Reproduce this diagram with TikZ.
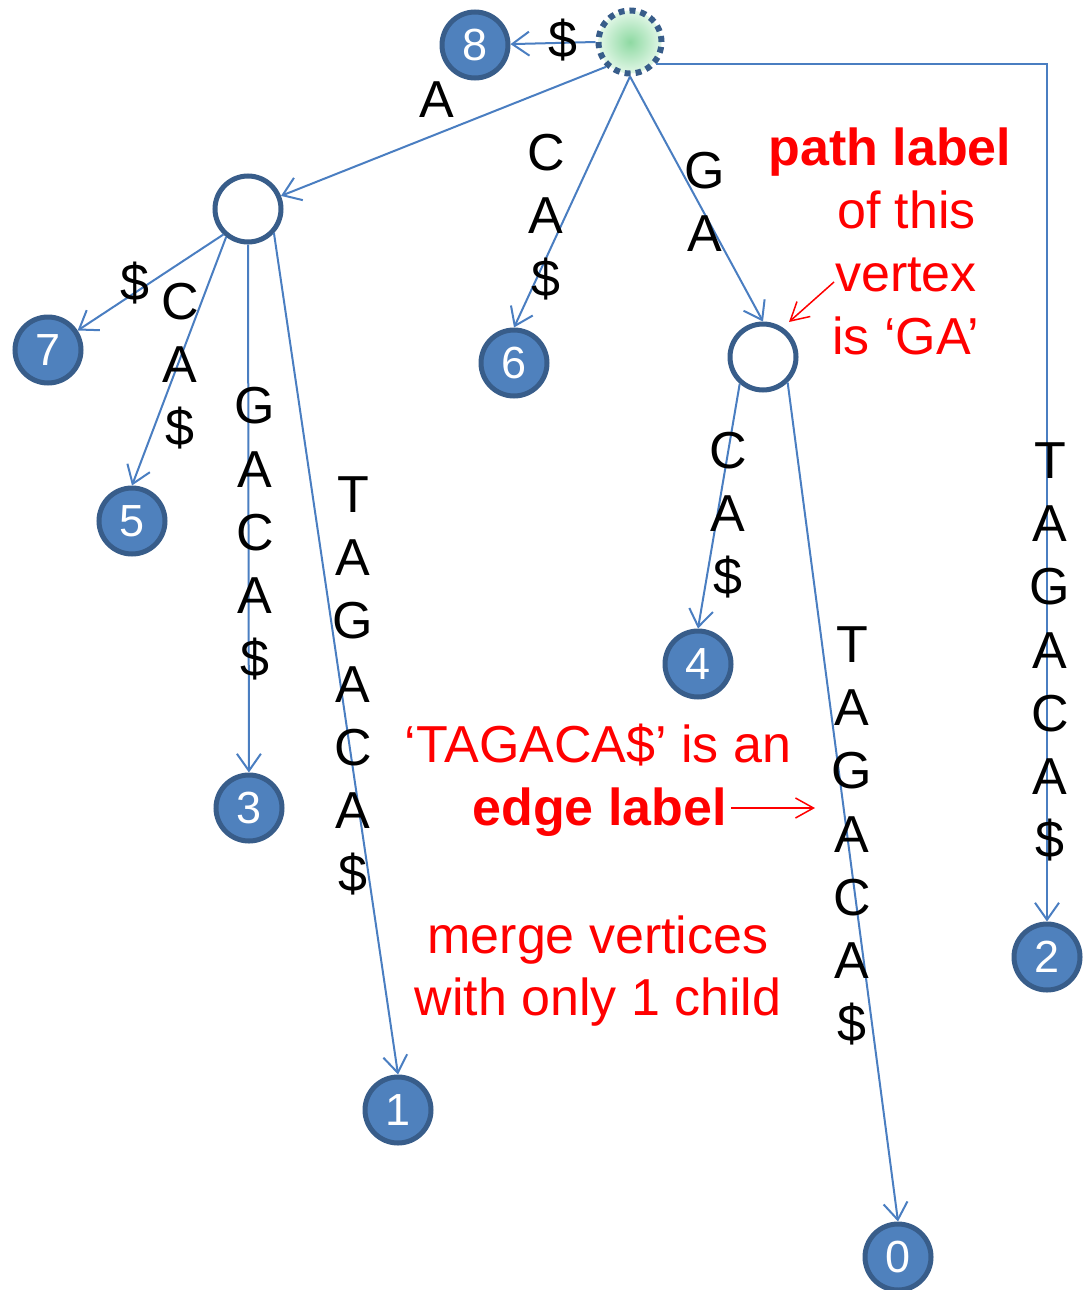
\documentclass[tikz,border=0pt]{standalone}
\usepackage{fontspec}
\setmainfont{Liberation Sans}
\usetikzlibrary{arrows.meta}
\definecolor{leaffill}{HTML}{4F81BD}
\definecolor{nodeline}{HTML}{385D8A}
\definecolor{edgeblue}{HTML}{4A7EC1}
\definecolor{rootin}{HTML}{8ED9A2}
\definecolor{rootout}{HTML}{E2F7E7}
\begin{document}
\begin{tikzpicture}[x=1pt,y=-1pt,
 leaf/.style={circle, fill=leaffill, draw=nodeline, line width=5pt, minimum size=66pt, inner sep=0pt, text=white, font=\fontsize{45}{45}\selectfont},
 innernode/.style={circle, fill=white, draw=nodeline, line width=5pt, minimum size=66pt, inner sep=0pt},
 rootnode/.style={circle, inner color=rootin, outer color=rootout, draw=nodeline, line width=6pt, dash pattern=on 6pt off 5pt, minimum size=63pt, inner sep=0pt},
 edge/.style={draw=edgeblue, line width=2pt, -{Straight Barb[length=17pt,width=24pt,line width=2pt]}},
 lab/.style={font=\fontsize{52}{63.3}\selectfont, align=center, inner sep=0pt},
 redtxt/.style={text=red, font=\fontsize{52}{62}\selectfont, inner sep=0pt, anchor=base},
 redarrow/.style={draw=red, line width=1.5pt, -{Straight Barb[length=18pt,width=20pt,line width=1.5pt]}}
]
\useasboundingbox (0,0) rectangle (1082,1290);

% vertices
\node[rootnode] (root) at (630,42) {};
\node[leaf] (n8) at (475,45) {8};
\node[innernode] (A) at (248,209) {};
\node[leaf] (n7) at (48,350) {7};
\node[leaf] (n5) at (132,521) {5};
\node[leaf] (n3) at (249,808) {3};
\node[leaf] (n1) at (398,1110) {1};
\node[leaf] (n6) at (514,363) {6};
\node[innernode] (GA) at (763,357) {};
\node[leaf] (n4) at (698,664) {4};
\node[leaf] (n0) at (898,1257) {0};
\node[leaf] (n2) at (1047,957) {2};

% edges
\draw[edge] (root.west) -- (n8);
\draw[edge] (root.-134) -- (A);
\draw[edge] (root.south) -- (n6.north);
\draw[edge] (root.south) -- (GA.north);
\draw[edge] (root.-40) -| (n2);
\draw[edge] (A.-134) -- (n7);
\draw[edge] (A.-128) -- (n5.north);
\draw[edge] (A.south) -- (n3);
\draw[edge] (A.-43) -- (n1.north);
\draw[edge] (GA.-131) -- (n4.north);
\draw[edge] (GA.-46) -- (n0.north);

% edge labels
\node[lab] (l8) at (563,40) {\$};
\node[lab] (lA) at (437,100) {A};
\node[lab] (l6) at (546,217) {C\\A\\\$};
\node[lab] (lGA) at (705,202) {G\\A};
\node[lab] (l2) at (1050,652) {T\\A\\G\\A\\C\\A\\\$};
\node[lab] (l7) at (135,283) {\$};
\node[lab] (l5) at (180,366) {C\\A\\\$};
\node[lab] (l3) at (255,534) {G\\A\\C\\A\\\$};
\node[lab] (l1) at (353,686) {T\\A\\G\\A\\C\\A\\\$};
\node[lab] (l4) at (728,515) {C\\A\\\$};
\node[lab] (l0) at (852,836) {T\\A\\G\\A\\C\\A\\\$};

% red annotations
\node[redtxt, font=\fontsize{52}{62}\selectfont\bfseries] (pl) at (890,165) {path label};
\node[redtxt, anchor=base west] (ot) at (837,228) {of this};
\node[redtxt, anchor=base west] (vx) at (835,291) {vertex};
\node[redtxt, anchor=base west] (ig) at (832,354) {is ‘GA’};
\coordinate (pa1) at (834,282);
\coordinate (pa2) at (789,322);
\draw[redarrow] (pa1) -- (pa2);

\node[redtxt] (tg) at (598,762) {‘TAGACA\$’ is an};
\node[redtxt, font=\fontsize{52}{62}\selectfont\bfseries, anchor=base east] (el) at (727,825) {edge label};
\coordinate (ea1) at (731,808);
\coordinate (ea2) at (815,808);
\draw[redarrow] (ea1) -- (ea2);

\node[redtxt] (mv) at (598,953) {merge vertices};
\node[redtxt] (wo) at (598,1015) {with only 1 child};
\end{tikzpicture}
\end{document}
